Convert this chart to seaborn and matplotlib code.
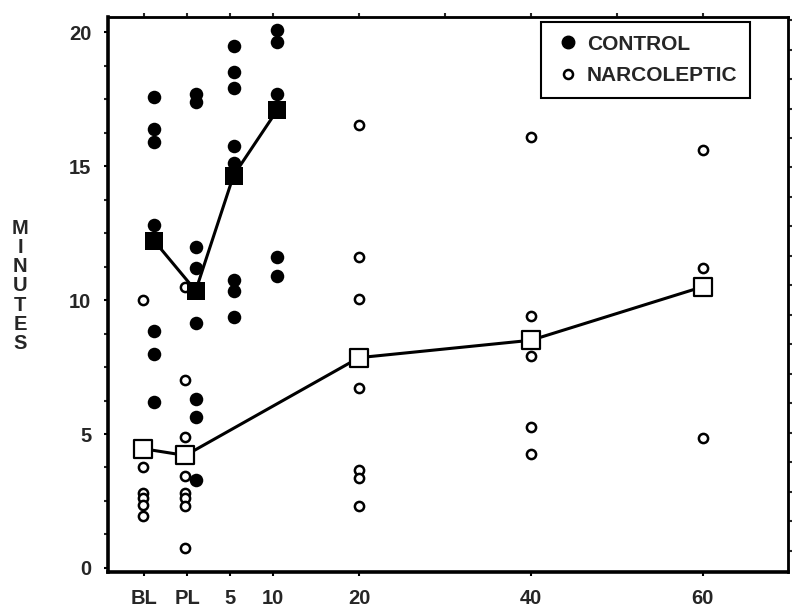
import numpy as np
import pandas as pd
import matplotlib
matplotlib.use("Agg")
import matplotlib.pyplot as plt
import seaborn as sns
from matplotlib.lines import Line2D
from matplotlib.ticker import MultipleLocator

# time points (BL = baseline, PL = placebo), plotted on a minutes scale
time_labels = ["BL", "PL", "5", "10", "20", "40", "60"]
time_pos = [-5, 0, 5, 10, 20, 40, 60]

# individual values
control_pts = {
    "BL": [17.6, 16.4, 15.9, 12.8, 8.85, 8.0, 6.2],
    "PL": [17.7, 17.4, 12.0, 11.2, 9.15, 6.3, 5.65, 3.3],
    "5": [19.5, 18.5, 17.9, 15.75, 15.1, 10.75, 10.35, 9.35],
    "10": [20.1, 19.65, 17.7, 11.6, 10.9],
}
narco_pts = {
    "BL": [10.0, 3.75, 2.8, 2.6, 2.35, 1.95],
    "PL": [10.5, 7.0, 4.9, 3.45, 2.8, 2.6, 2.3, 0.75],
    "20": [16.55, 11.6, 10.05, 6.7, 3.65, 3.35, 2.3],
    "40": [16.1, 9.4, 7.9, 5.25, 4.25],
    "60": [15.6, 11.2, 4.85],
}

# group means
control_mean_t = ["BL", "PL", "5", "10"]
control_mean = [12.2, 10.35, 14.65, 17.1]
narco_mean_t = ["BL", "PL", "20", "40", "60"]
narco_mean = [4.45, 4.2, 7.85, 8.5, 10.5]

pos = dict(zip(time_labels, time_pos))
# small side shift so the two groups don't sit on top of each other
shift_c = {"BL": 1.2, "PL": 1.0, "5": 0.4, "10": 0.5}
shift_n = {"BL": -0.1, "PL": -0.2}


def long_form(pts, shift):
    rows = []
    for t, vals in pts.items():
        for v in vals:
            rows.append({"x": pos[t] + shift.get(t, 0), "minutes": v})
    return pd.DataFrame(rows)


df_c = long_form(control_pts, shift_c)
df_n = long_form(narco_pts, shift_n)
mean_c = pd.DataFrame({"x": [pos[t] + shift_c.get(t, 0) for t in control_mean_t],
                       "minutes": control_mean})
mean_n = pd.DataFrame({"x": [pos[t] + shift_n.get(t, 0) for t in narco_mean_t],
                       "minutes": narco_mean})

sns.set_style("ticks")
plt.rcParams['font.family'] = ['Liberation Sans', 'DejaVu Sans']
plt.rcParams['font.weight'] = 'bold'

fig = plt.figure(figsize=(8, 6.15), dpi=100)
ax = fig.add_axes([0.135, 0.070, 0.850, 0.902])

# individual subjects
sns.scatterplot(data=df_c, x="x", y="minutes", color="black", marker="o",
                s=95, linewidth=0, ax=ax, zorder=3)
sns.scatterplot(data=df_n, x="x", y="minutes", color="white", edgecolor="black",
                marker="o", s=44, linewidth=1.8, ax=ax, zorder=3)

# means
sns.lineplot(data=mean_c, x="x", y="minutes", color="black", lw=2.2, ax=ax, zorder=4)
sns.lineplot(data=mean_n, x="x", y="minutes", color="black", lw=2.2, ax=ax, zorder=4)
sns.scatterplot(data=mean_c, x="x", y="minutes", color="black", marker="s",
                s=185, linewidth=0, ax=ax, zorder=5)
sns.scatterplot(data=mean_n, x="x", y="minutes", color="white", edgecolor="black",
                marker="s", s=160, linewidth=1.6, ax=ax, zorder=5)

ax.set_xlim(-9.2, 69.9)
ax.set_ylim(-0.15, 20.56)
ax.set_xticks(time_pos)
ax.set_xticklabels(time_labels)
ax.set_yticks([0, 5, 10, 15, 20])
ax.yaxis.set_minor_locator(MultipleLocator(1.25))
ax.set_xlabel("")
ax.set_ylabel("")
ax.tick_params(axis="both", which="major", direction="out", length=3, width=1.5,
               labelsize=14.5, pad=9, color="black")
ax.tick_params(axis="y", which="minor", direction="out", length=3, width=1.5)

for side in ["left", "bottom"]:
    ax.spines[side].set_linewidth(2.6)
for side in ["top", "right"]:
    ax.spines[side].set_linewidth(1.8)
for sp in ax.spines.values():
    sp.set_color("black")

# small ticks on the top and right frame
top = ax.secondary_xaxis("top")
top.set_xticks([-5, 0, 5, 10, 20, 30, 40, 50, 60])
top.tick_params(direction="out", length=3, width=1.5, labeltop=False)
top.spines["top"].set_linewidth(1.8)
right = ax.secondary_yaxis("right")
right.set_yticks(np.arange(20.45, 0, -1.1))
right.tick_params(direction="out", length=3, width=1.5, labelright=False)
right.spines["right"].set_linewidth(1.8)

# stacked y label
fig.text(0.025, 0.535, "M\nI\nN\nU\nT\nE\nS", ha="center", va="center",
         fontsize=14.5, fontweight="bold", linespacing=1.02)

handles = [
    Line2D([], [], marker="o", ls="none", color="black", markersize=9),
    Line2D([], [], marker="o", ls="none", markerfacecolor="white",
           markeredgecolor="black", markeredgewidth=1.8, markersize=6.5),
]
leg = ax.legend(handles, ["CONTROL", "NARCOLEPTIC"], loc="upper right",
                bbox_to_anchor=(0.944, 0.991), borderaxespad=0, fancybox=False,
                framealpha=1, edgecolor="black", prop={"size": 15, "weight": "bold"},
                handlelength=1.4, handletextpad=0.2, labelspacing=0.6, borderpad=0.6)
leg.get_frame().set_linewidth(1.5)

fig.savefig("out.png", dpi=100)
